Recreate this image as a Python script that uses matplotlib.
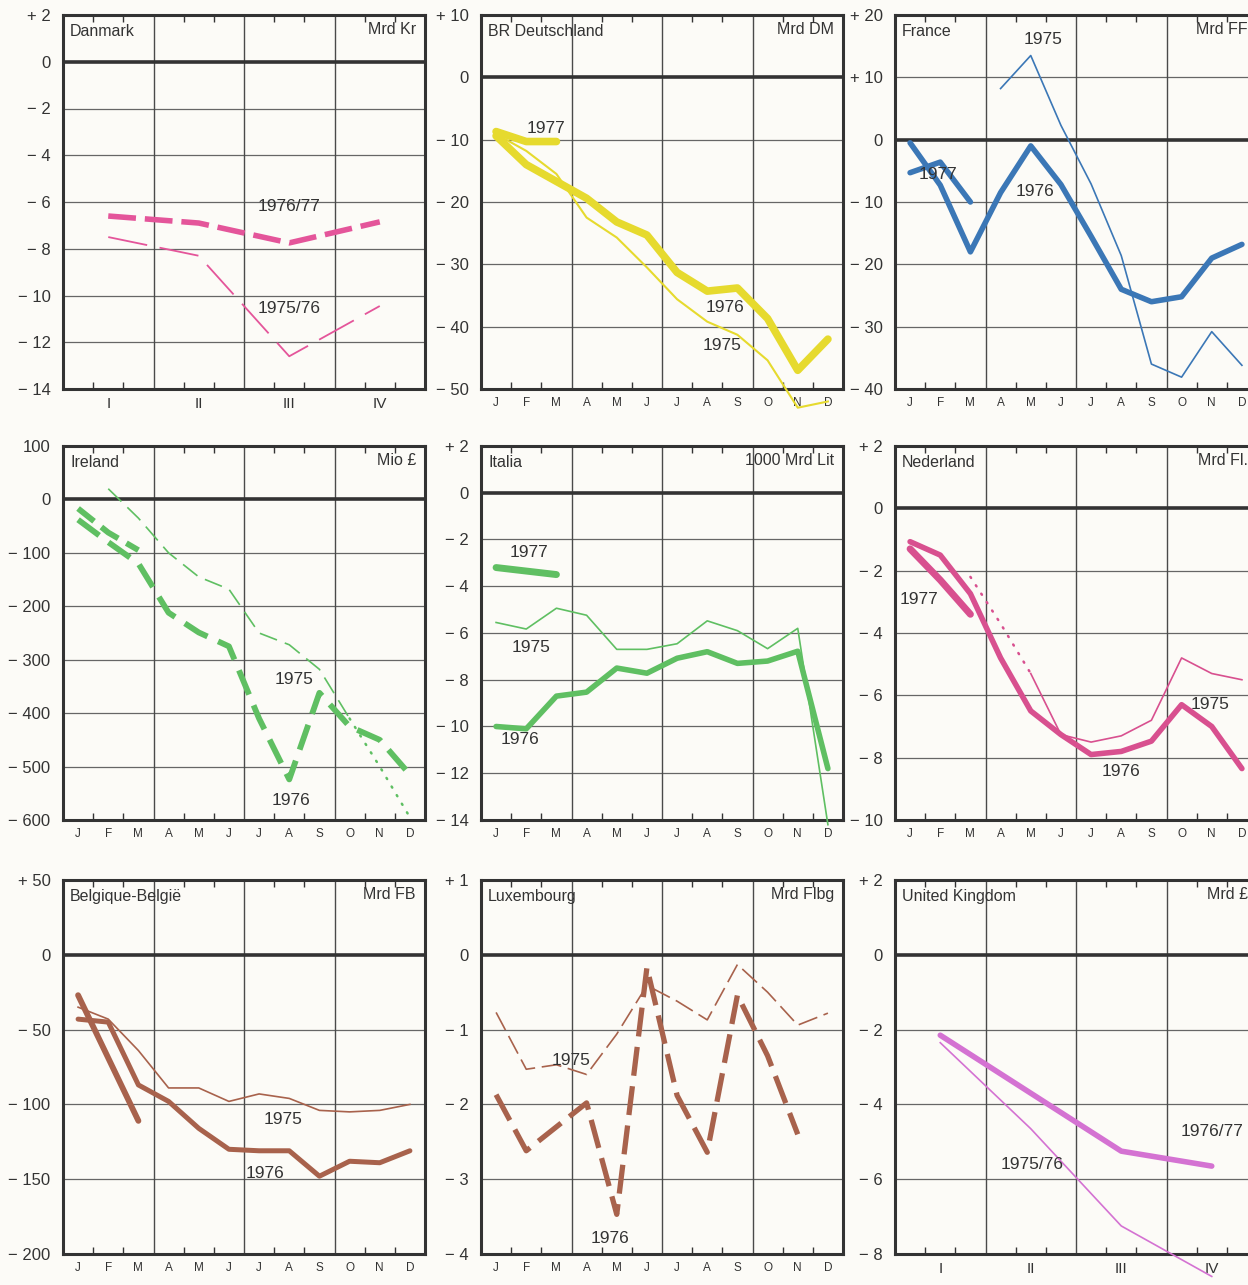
import numpy as np
import matplotlib
matplotlib.use('Agg')
import matplotlib.pyplot as plt

plt.rcParams['font.family'] = ['Liberation Sans', 'DejaVu Sans']

nan = np.nan
months = np.arange(12) + 0.5
quarters = np.arange(4) + 0.5
month_labels = ['J', 'F', 'M', 'A', 'M', 'J', 'J', 'A', 'S', 'O', 'N', 'D']
quarter_labels = ['I', 'II', 'III', 'IV']

# Danmark, Mrd Kr, by quarter
dk_7677 = [-6.6, -6.9, -7.75, -6.85]
dk_7576 = [-7.5, -8.3, -12.6, -10.45]

# BR Deutschland, Mrd DM
de_1977 = [-8.7, -10.3, -10.3] + [nan] * 9
de_1976 = [-9.4, -14.0, -16.7, -19.4, -23.2, -25.3, -31.3, -34.3, -33.8, -38.7, -47.0, -42.0]
de_1975 = [-9.1, -11.8, -15.5, -22.5, -25.7, -30.5, -35.6, -39.2, -41.3, -45.4, -53.0, -52.0]

# France, Mrd FF
fr_1977 = [-5.3, -3.6, -10.0] + [nan] * 9
fr_1976 = [-0.5, -7.3, -18.0, -8.5, -1.0, -7.2, -15.5, -24.0, -26.0, -25.2, -19.0, -16.8]
fr_1975 = [nan, nan, nan, 8.2, 13.5, 2.3, -7.1, -18.6, -36.0, -38.1, -30.8, -36.2]

# Ireland, Mio £
ie_1977 = [-17, -62, -95] + [nan] * 9
ie_1976 = [-38, -80, -120, -212, -249, -275, -410, -524, -362, -425, -450, -515]
ie_1975 = [nan, 20, -35, -100, -145, -168, -250, -272, -318, -410, -500, -595]
ie_1975_dotted_from = 9

# Italia, 1000 Mrd Lit
it_1977 = [-3.2, -3.35, -3.5] + [nan] * 9
it_1976 = [-10.0, -10.1, -8.7, -8.53, -7.5, -7.72, -7.08, -6.8, -7.3, -7.2, -6.78, -11.8]
it_1975 = [-5.55, -5.83, -4.94, -5.24, -6.7, -6.7, -6.46, -5.48, -5.9, -6.67, -5.8, -14.2]

# Nederland, Mrd Fl.
nl_1977 = [-1.3, -2.3, -3.4] + [nan] * 9
nl_1976 = [-1.07, -1.5, -2.74, -4.8, -6.5, -7.26, -7.9, -7.8, -7.47, -6.3, -7.0, -8.35]
nl_1975 = [nan, nan, -2.2, -3.7, -5.3, -7.26, -7.5, -7.3, -6.8, -4.8, -5.3, -5.5]
nl_1975_solid_from = 4

# Belgique-België, Mrd FB
be_1977 = [-27, -69, -111] + [nan] * 9
be_1976 = [-43, -45, -87, -98, -116, -130, -131, -131, -148, -138, -139, -131]
be_1975 = [-35, -43, -64, -89, -89, -98, -93, -96, -104, -105, -104, -100]

# Luxembourg, Mrd Flbg
lu_1976 = [-1.87, -2.62, -2.3, -1.98, -3.47, -0.17, -1.88, -2.64, -0.54, -1.35, -2.4, nan]
lu_1975 = [-0.77, -1.53, -1.47, -1.6, -1.06, -0.41, -0.62, -0.87, -0.13, -0.5, -0.94, -0.78]

# United Kingdom, Mrd £, by quarter
uk_7677 = [-2.15, -3.7, -5.25, -5.65]
uk_7576 = [-2.35, -4.65, -7.25, -8.6]

PINK = '#e4559a'
YELLOW = '#e6da2e'
BLUE = '#3b77b6'
GREEN = '#5fbf62'
ROSE = '#d8508f'
BROWN = '#a8624c'
VIOLET = '#d472d2'
INK = '#333333'

fig = plt.figure(figsize=(12.48, 12.85), dpi=100)
fig.patch.set_facecolor('#fcfbf7')

col_left = [63, 481, 895]
row_top = [15, 446, 880]
W, H = 362, 374


def make_axes(col, row):
    l, t = col_left[col], row_top[row]
    return fig.add_axes([l / 1248, 1 - (t + H) / 1285, W / 1248, H / 1285])


def ylabel_text(v, plus=True):
    if v > 0:
        return ('+ %g' % v) if plus else ('%g' % v)
    if v == 0:
        return '0'
    return '\u2212 %g' % abs(v)


def setup(ax, title, unit, ylo, yhi, ystep, quarterly=False, plus=True):
    ax.set_facecolor('none')
    n = 4 if quarterly else 12
    ax.set_xlim(0, n)
    ax.set_ylim(ylo, yhi)
    yt = np.arange(ylo, yhi + ystep / 2, ystep)
    ax.set_yticks(yt)
    ax.set_yticklabels([ylabel_text(v, plus) for v in yt], fontsize=12, color=INK)
    ax.tick_params(axis='y', length=0, pad=9)
    for v in yt:
        if v != 0 and ylo < v < yhi:
            ax.axhline(v, color='#666666', lw=0.9, zorder=1)
    ax.axhline(0, color=INK, lw=2.6, zorder=2)
    if quarterly:
        ax.set_xticks(quarters)
        ax.set_xticklabels(quarter_labels, fontsize=11, color=INK)
        ax.tick_params(axis='x', length=0, pad=6)
        minor = [q + f for q in range(4) for f in (1 / 3, 2 / 3)]
        vlines = [1, 2, 3]
    else:
        ax.set_xticks(months)
        ax.set_xticklabels(month_labels, fontsize=8.5, color=INK)
        ax.tick_params(axis='x', length=0, pad=6)
        minor = [m for m in range(1, 12) if m % 3]
        vlines = [3, 6, 9]
    ax.set_xticks(minor, minor=True)
    ax.tick_params(axis='x', which='minor', direction='in', length=5, width=1,
                   color=INK, top=True, bottom=True)
    for v in vlines:
        ax.axvline(v, color='#4a4a4a', lw=1.0, zorder=1)
    for s in ax.spines.values():
        s.set_linewidth(2.2)
        s.set_color(INK)
    ax.text(0.02, 0.955, title, transform=ax.transAxes, fontsize=11.5,
            color=INK, ha='left', va='center')
    ax.text(0.975, 0.96, unit, transform=ax.transAxes, fontsize=11.5,
            color=INK, ha='right', va='center')


def note(ax, x, y, s):
    ax.text(x, y, s, fontsize=12.5, color=INK, ha='center', va='center', zorder=6)


def thick(ax, x, y, c, lw=4.0, **kw):
    ax.plot(x, y, color=c, lw=lw, solid_capstyle='round', solid_joinstyle='round',
            clip_on=False, zorder=4, **kw)


def thin(ax, x, y, c, lw=1.2, **kw):
    ax.plot(x, y, color=c, lw=lw, solid_joinstyle='round', clip_on=False, zorder=3, **kw)


# Danmark
ax = make_axes(0, 0)
setup(ax, 'Danmark', 'Mrd Kr', -14, 2, 2, quarterly=True)
ax.plot(quarters, dk_7677, color=PINK, lw=4, dashes=(5, 1.6), dash_capstyle='butt',
        zorder=4)
ax.plot(quarters, dk_7576, color=PINK, lw=1.3, dashes=(22, 7), zorder=3)
note(ax, 2.5, -6.2, '1976/77')
note(ax, 2.5, -10.55, '1975/76')

# BR Deutschland
ax = make_axes(1, 0)
setup(ax, 'BR Deutschland', 'Mrd DM', -50, 10, 10)
thin(ax, months, de_1975, YELLOW, lw=1.5)
thick(ax, months, de_1976, YELLOW, lw=5.5)
thick(ax, months, de_1977, YELLOW, lw=5.5)
note(ax, 2.15, -8.2, '1977')
note(ax, 8.1, -37.0, '1976')
note(ax, 8.0, -43.0, '1975')

# France
ax = make_axes(2, 0)
setup(ax, 'France', 'Mrd FF', -40, 20, 10)
thin(ax, months, fr_1975, BLUE)
thick(ax, months, fr_1976, BLUE)
thick(ax, months, fr_1977, BLUE)
note(ax, 4.9, 16.0, '1975')
note(ax, 1.42, -5.6, '1977')
note(ax, 4.65, -8.3, '1976')

# Ireland
ax = make_axes(0, 1)
setup(ax, 'Ireland', 'Mio £', -600, 100, 100, plus=False)
k = ie_1975_dotted_from
ax.plot(months[:k + 1], ie_1975[:k + 1], color=GREEN, lw=1.2, dashes=(11, 5), zorder=3)
ax.plot(months[k:], ie_1975[k:], color=GREEN, lw=1.8, dashes=(0.5, 3.5),
        dash_capstyle='round', clip_on=False, zorder=3)
ax.plot(months, ie_1976, color=GREEN, lw=4.2, dashes=(4.5, 2), zorder=4)
ax.plot(months, ie_1977, color=GREEN, lw=4.2, dashes=(3.5, 1.6), zorder=4)
note(ax, 7.67, -337, '1975')
note(ax, 7.57, -563, '1976')

# Italia
ax = make_axes(1, 1)
setup(ax, 'Italia', '1000 Mrd Lit', -14, 2, 2)
thin(ax, months, it_1975, GREEN)
thick(ax, months, it_1976, GREEN)
thick(ax, months, it_1977, GREEN, lw=5)
note(ax, 1.6, -2.55, '1977')
note(ax, 1.65, -6.6, '1975')
note(ax, 1.3, -10.55, '1976')

# Nederland
ax = make_axes(2, 1)
setup(ax, 'Nederland', 'Mrd Fl.', -10, 2, 2)
k = nl_1975_solid_from
ax.plot(months[:k + 1], nl_1975[:k + 1], color=ROSE, lw=1.8, dashes=(0.5, 3.5),
        dash_capstyle='round', zorder=3)
thin(ax, months[k:], nl_1975[k:], ROSE)
thick(ax, months, nl_1976, ROSE)
thick(ax, months, nl_1977, ROSE, lw=5)
note(ax, 0.8, -2.94, '1977')
note(ax, 10.45, -6.3, '1975')
note(ax, 7.5, -8.44, '1976')

# Belgique-België
ax = make_axes(0, 2)
setup(ax, 'Belgique-België', 'Mrd FB', -200, 50, 50)
thin(ax, months, be_1975, BROWN)
thick(ax, months, be_1976, BROWN, lw=3.6)
thick(ax, months, be_1977, BROWN, lw=4.2)
note(ax, 7.3, -110, '1975')
note(ax, 6.7, -146, '1976')

# Luxembourg
ax = make_axes(1, 2)
setup(ax, 'Luxembourg', 'Mrd Flbg', -4, 1, 1)
ax.plot(months, lu_1975, color=BROWN, lw=1.2, dashes=(12, 4), zorder=3)
ax.plot(months, lu_1976, color=BROWN, lw=3.8, dashes=(5.5, 2), zorder=4)
note(ax, 3.0, -1.41, '1975')
note(ax, 4.28, -3.79, '1976')

# United Kingdom
ax = make_axes(2, 2)
setup(ax, 'United Kingdom', 'Mrd £', -8, 2, 2, quarterly=True)
thin(ax, quarters, uk_7576, VIOLET)
thick(ax, quarters, uk_7677, VIOLET)
note(ax, 1.52, -5.62, '1975/76')
note(ax, 3.5, -4.73, '1976/77')

fig.savefig('out.png', dpi=100, facecolor=fig.get_facecolor())
